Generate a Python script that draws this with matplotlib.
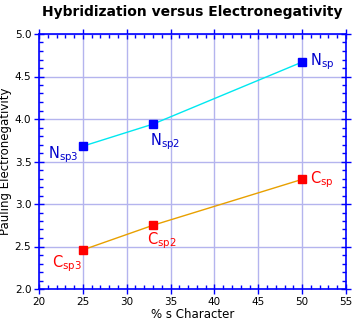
import matplotlib.pyplot as plt
from matplotlib.ticker import MultipleLocator

# data
s_char = [25, 33, 50]
n_vals = [3.68, 3.94, 4.67]
c_vals = [2.46, 2.75, 3.29]
n_labels = ['sp3', 'sp2', 'sp']
c_labels = ['sp3', 'sp2', 'sp']

blue = '#0000ff'
grid_col = '#b4b4ee'

fig = plt.figure(figsize=(3.54, 3.21), dpi=100)
ax = fig.add_axes([39/354, 32/321, 307/354, 255/321])

ax.plot(s_char, n_vals, color='#00e8f0', lw=1, zorder=2)
ax.plot(s_char, c_vals, color='#e8a000', lw=1, zorder=2)
ax.plot(s_char, n_vals, 's', color='#0000ff', ms=5.5, lw=0, zorder=3)
ax.plot(s_char, c_vals, 's', color='#ff0000', ms=5.5, lw=0, zorder=3)

# label offsets in points
n_off = [(-25, -6), (-2, -13), (6, 0)]
c_off = [(-22, -10), (-4, -11), (6, 0)]
for x, y, lab, off in zip(s_char, n_vals, n_labels, n_off):
    ax.annotate(r'$\mathregular{N_{%s}}$' % lab, (x, y), xytext=off,
                textcoords='offset points', color='#0000cc', fontsize=10.5,
                va='center', ha='left')
for x, y, lab, off in zip(s_char, c_vals, c_labels, c_off):
    ax.annotate(r'$\mathregular{C_{%s}}$' % lab, (x, y), xytext=off,
                textcoords='offset points', color='#ff0000', fontsize=10.5,
                va='center', ha='left')

ax.set_xlim(20, 55)
ax.set_ylim(2.0, 5.0)
ax.xaxis.set_major_locator(MultipleLocator(5))
ax.xaxis.set_minor_locator(MultipleLocator(1))
ax.yaxis.set_major_locator(MultipleLocator(0.5))
ax.yaxis.set_minor_locator(MultipleLocator(0.1))
ax.yaxis.set_major_formatter(plt.FormatStrFormatter('%.1f'))
ax.grid(True, which='major', color=grid_col, lw=1, zorder=0)
ax.set_axisbelow(True)

for sp in ax.spines.values():
    sp.set_color(blue)
    sp.set_linewidth(1.2)
ax.tick_params(which='major', direction='inout', length=7, width=1, color=blue,
               top=True, right=True, labelsize=7.5, labelcolor='black', pad=2)
ax.tick_params(which='minor', direction='in', length=3, width=1, color=blue,
               top=True, right=True)

ax.set_xlabel('% s Character', fontsize=8.5, labelpad=1)
ax.set_ylabel('Pauling Electronegativity', fontsize=8.5, labelpad=2)
ax.set_title('Hybridization versus Electronegativity', fontsize=10,
             fontweight='bold', pad=13)

fig.savefig('out.png', dpi=100)
